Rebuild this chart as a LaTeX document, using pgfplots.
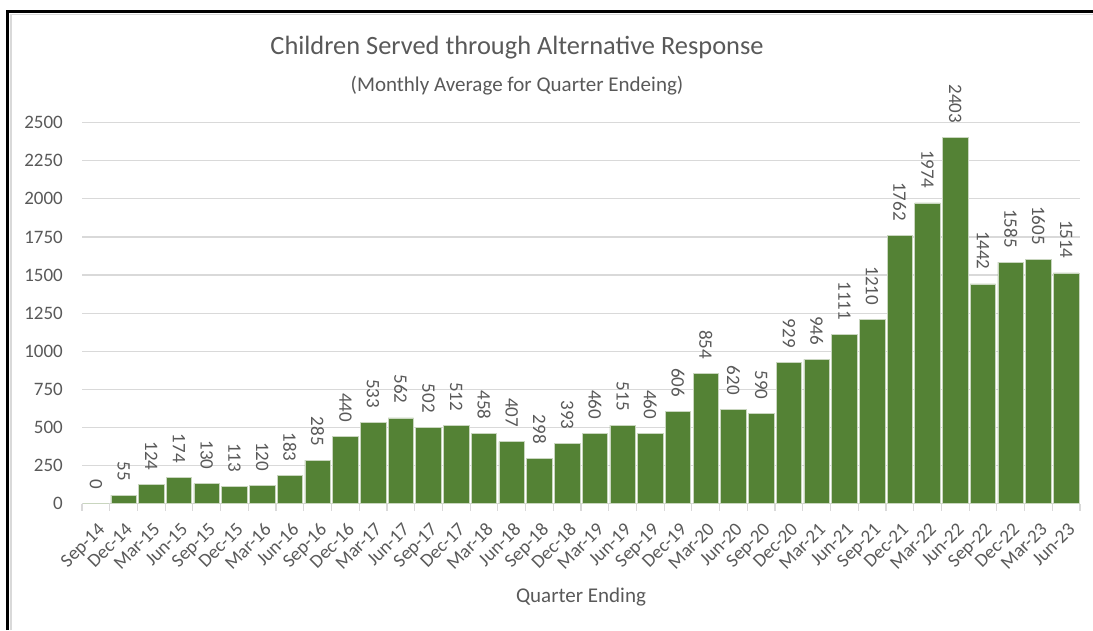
\documentclass[border=0pt]{standalone}
\usepackage{pgfplots}
\pgfplotsset{compat=1.18}
\usepackage{fontspec}
\setmainfont{Carlito}
\definecolor{txt}{HTML}{595959}
\definecolor{bargreen}{HTML}{548235}
\definecolor{barline}{HTML}{C9D6BF}
\definecolor{gridc}{HTML}{D9D9D9}
\begin{document}
\begin{tikzpicture}
% page frame
\draw[gridc, line width=1.5pt] (11pt,-630pt) -- (11pt,-14.5pt) -- (1093pt,-14.5pt);
\draw[black, line width=2.5pt] (7.5pt,-630pt) -- (7.5pt,-11.5pt) -- (1093pt,-11.5pt);
% titles
\node[font=\fontsize{26.4}{30}\selectfont, text=txt] at (517pt,-48pt) {Children Served through Alternative Response};
\node[font=\fontsize{21}{24}\selectfont, text=txt] at (517pt,-86pt) {(Monthly Average for Quarter Endeing)};
\begin{axis}[
  at={(82pt,-503.5pt)}, anchor=south west,
  scale only axis, width=998pt, height=380.8pt,
  ybar, bar width=0.92,
  xmin=-0.5, xmax=35.5, ymin=0, ymax=2500,
  ytick={0,250,...,2500},
  ymajorgrids, grid style={gridc, line width=1.2pt},
  axis lines*=left,
  y axis line style={draw=none},
  x axis line style={gridc, line width=1.5pt},
  ytick style={draw=none},
  xtick={0,...,35},
  xticklabels={Sep-14,Dec-14,Mar-15,Jun-15,Sep-15,Dec-15,Mar-16,Jun-16,Sep-16,Dec-16,Mar-17,Jun-17,Sep-17,Dec-17,Mar-18,Jun-18,Sep-18,Dec-18,Mar-19,Jun-19,Sep-19,Dec-19,Mar-20,Jun-20,Sep-20,Dec-20,Mar-21,Jun-21,Sep-21,Dec-21,Mar-22,Jun-22,Sep-22,Dec-22,Mar-23,Jun-23},
  major tick length=0pt,
  minor xtick={-0.5,0.5,...,35.5},
  minor tick length=7pt, tick align=outside,
  minor x tick style={gridc, line width=1.2pt},
  major x tick style={draw=none},
  xticklabel style={xshift=1pt, yshift=-18pt, inner sep=0pt, rotate=45, anchor=north east,
    font=\fontsize{19}{21}\selectfont, text=txt},
  yticklabel style={inner sep=0pt, anchor=east, xshift=-19pt,
    font=\fontsize{19}{21}\selectfont, text=txt},
  xlabel={Quarter Ending},
  xlabel style={font=\fontsize{21}{24}\selectfont, text=txt, at={(0.5,0)}, anchor=center, yshift=-94pt},
  nodes near coords,
  every node near coord/.append style={yshift=14pt, inner sep=0pt, rotate=-90, anchor=east,
    font=\fontsize{19}{21}\selectfont, text=txt},
  /pgf/number format/.cd, 1000 sep={}, assume math mode=true,
]
\addplot[fill=bargreen, draw=barline, line width=0.6pt] coordinates {
  (0,0) (1,55) (2,124) (3,174) (4,130) (5,113) (6,120) (7,183) (8,285)
  (9,440) (10,533) (11,562) (12,502) (13,512) (14,458) (15,407) (16,298)
  (17,393) (18,460) (19,515) (20,460) (21,606) (22,854) (23,620) (24,590)
  (25,929) (26,946) (27,1111) (28,1210) (29,1762) (30,1974) (31,2403)
  (32,1442) (33,1585) (34,1605) (35,1514)
};
\end{axis}
\pgfresetboundingbox
\path[use as bounding box] (0pt,0pt) rectangle (1093pt,-630pt);
\end{tikzpicture}
\end{document}
